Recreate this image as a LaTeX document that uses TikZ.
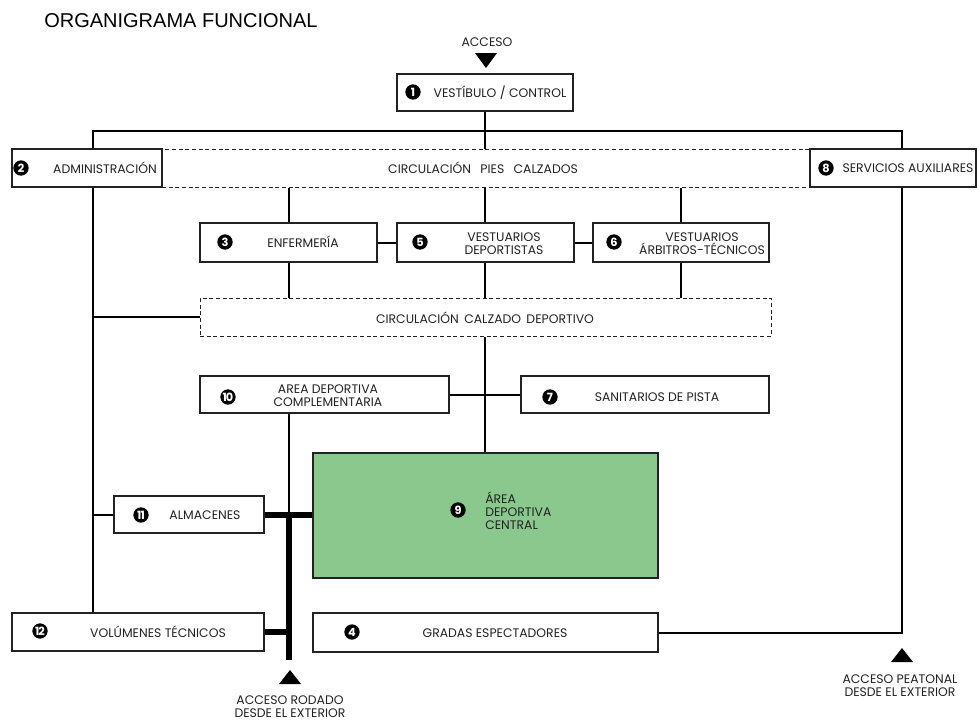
\documentclass[tikz,border=0pt]{standalone}
\usepackage{fontspec}
\setmainfont{Poppins}
\newfontfamily\titlefont{Liberation Sans}
\definecolor{greenf}{HTML}{8AC88E}
\definecolor{ink}{HTML}{222222}
\newcommand\mybox[6]{\node[#6, minimum width={(#4-#2)*0.75pt}, minimum height={(#5-#3)*0.75pt}] (#1) at ({(#2+#4)/2},{(#3+#5)/2}) {};}
\tikzset{
  box/.style={draw=ink, line width=1.1pt, fill=white, inner sep=0pt},
  dbox/.style={draw=ink, dash pattern=on 3pt off 2pt, line width=0.75pt, inner sep=0pt},
  gbox/.style={draw=ink, line width=1.1pt, fill=greenf, inner sep=0pt},
  ln/.style={line width=1.5pt, draw=black},
  thinln/.style={line width=0.8pt, draw=black},
  bus/.style={line width=4.5pt, draw=black},
  num/.style={circle, fill=black, text=white, inner sep=0pt, minimum size=11.5pt, font=\fontsize{8.5}{8.5}\selectfont\bfseries},
  lbl/.style={font=\fontsize{9.3}{9.8}\selectfont, align=center, text=ink, inner sep=0pt},
  lbll/.style={lbl, align=left},
}
\begin{document}
\begin{tikzpicture}[x=0.75pt, y=-0.75pt]
\useasboundingbox (0,0) rectangle (977,722);
% columns
\coordinate (cL) at (93,0);
\coordinate (cR) at (902,0);
\coordinate (c1) at (289,0);
\coordinate (c2) at (485,0);
\coordinate (c3) at (681,0);
\coordinate (tb) at (0,131);
\coordinate (busend) at (289,660);

\node[anchor=base west, font=\titlefont\fontsize{15}{15}\selectfont, inner sep=0pt] (title) at (44,27) {ORGANIGRAMA FUNCIONAL};

% dashed circulations
\mybox{cps}{162}{149}{810}{187}{dbox}
\mybox{ccd}{200}{298}{771}{336}{dbox}
% boxes
\mybox{b1}{397}{74}{573}{111}{box}
\mybox{b2}{12}{149}{162}{187}{box}
\mybox{b8}{810}{149}{976}{187}{box}
\mybox{b3}{200}{223}{377}{262}{box}
\mybox{b5}{397}{223}{574}{262}{box}
\mybox{b6}{593}{223}{769}{262}{box}
\mybox{b10}{200}{376}{449}{413}{box}
\mybox{b7}{521}{376}{769}{413}{box}
\mybox{b11}{114}{496}{264}{533}{box}
\mybox{b9}{313}{453}{658}{578}{gbox}
\mybox{b12}{12}{613}{264}{651}{box}
\mybox{b4}{313}{613}{658}{652}{box}

% connectors
\draw[ln] (b1.south) -- (cps.north -| b1.south);
\draw[ln] (b2.north -| cL) -- (cL |- tb) -- (cR |- tb) -- (b8.north -| cR);
\draw[ln] (b2.south -| cL) -- (b12.north -| cL);
\draw[ln] (b8.south -| cR) -- (cR |- b4.east) -- (b4.east);
\draw[ln] (cps.south -| c1) -- (b3.north -| c1);
\draw[thinln] (cps.south -| c2) -- (b5.north -| c2);
\draw[ln] (cps.south -| c3) -- (b6.north -| c3);
\draw[ln] (b3.east) -- (b5.west);
\draw[ln] (b5.east) -- (b6.west);
\draw[ln] (b3.south -| c1) -- (ccd.north -| c1);
\draw[thinln] (b5.south -| c2) -- (ccd.north -| c2);
\draw[ln] (b6.south -| c3) -- (ccd.north -| c3);
\draw[ln] (cL |- ccd.west) -- (ccd.west);
\draw[ln] (ccd.south -| c2) -- (b9.north -| c2);
\draw[ln] (b10.east) -- (b7.west);
\draw[ln] (b10.south -| c1) -- (c1 |- b11.east);
\draw[ln] (cL |- b11.west) -- (b11.west);
\draw[bus] (c1 |- b11.east) -- (busend);
\draw[bus] (b11.east) -- (b11.east -| b9.west);
\draw[bus] (b12.east) -- (b12.east -| c1);

% access arrows
\coordinate (a1) at (486,53);
\fill (a1) ++(-11,0) -- ++(22,0) -- ++(-11,15) -- cycle;
\node[lbl] (acc) at (487,42) {ACCESO};
\coordinate (a2) at (290,670);
\fill (a2) -- ++(11,14) -- ++(-22,0) -- cycle;
\node[lbl] (accr) at (290,707) {ACCESO RODADO\\DESDE EL EXTERIOR};
\coordinate (a3) at (902,648);
\fill (a3) -- ++(11,14) -- ++(-22,0) -- cycle;
\node[lbl] (accp) at (900,686) {ACCESO PEATONAL\\DESDE EL EXTERIOR};

% numbers
\node[num] (n1) at (413,92) {1};
\node[num] (n2) at (21,168) {2};
\node[num] (n8) at (826,168) {8};
\node[num] (n3) at (225,242) {3};
\node[num] (n5) at (420,242) {5};
\node[num] (n6) at (614,242) {6};
\node[num] (n10) at (228,397) {\addfontfeature{LetterSpace=-8}10};
\node[num] (n7) at (550,397) {7};
\node[num] (n11) at (141,515) {\addfontfeature{LetterSpace=-8}11};
\node[num] (n12) at (40,631) {\addfontfeature{LetterSpace=-8}12};
\node[num] (n4) at (352,632) {4};
\node[num] (n9) at (458,510) {9};

% labels
\node[lbl] (t1) at (500,93) {VESTÍBULO / CONTROL};
\node[lbl] (t2) at (105,168) {ADMINISTRACIÓN};
\node[lbl] (t8) at (908,168) {SERVICIOS AUXILIARES};
\node[lbl] (tcps) at (483,168) {CIRCULACIÓN\hspace{7pt}PIES\hspace{7pt}CALZADOS};
\node[lbl] (t3) at (303,242) {ENFERMERÍA};
\node[lbl] (t5) at (504,244) {VESTUARIOS\\DEPORTISTAS};
\node[lbl] (t6) at (702,244) {VESTUARIOS\\ÁRBITROS-TÉCNICOS};
\node[lbl] (tccd) at (485,318) {CIRCULACIÓN\hspace{4pt}CALZADO\hspace{4pt}DEPORTIVO};
\node[lbl] (t10) at (328,396) {AREA DEPORTIVA\\COMPLEMENTARIA};
\node[lbl] (t7) at (657,397) {SANITARIOS DE PISTA};
\node[lbl] (t11) at (205,515) {ALMACENES};
\node[lbl] (t12) at (158,632) {VOLÚMENES TÉCNICOS};
\node[lbll, anchor=west] (t9) at (485,511) {ÁREA\\DEPORTIVA\\CENTRAL};
\node[lbl] (t4) at (495,633) {GRADAS ESPECTADORES};
\end{tikzpicture}
\end{document}
